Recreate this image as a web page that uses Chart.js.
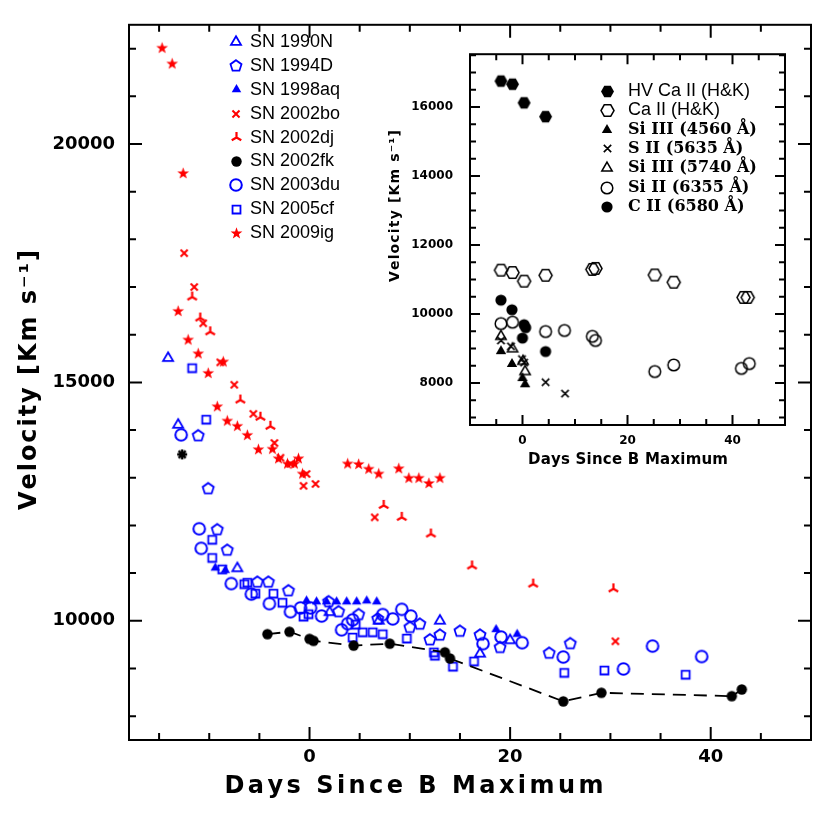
<!DOCTYPE html>
<html lang="en">
<head>
<meta charset="UTF-8">
<title>SN Ia velocities</title>
<script src="https://cdn.jsdelivr.net/npm/chart.js"></script>
<style>
    body { margin: 0; background: #fff; }
    #wrap { position: relative; width: 830px; height: 830px; }
    #main { position: absolute; left: 0; top: 0; }
    #inset { position: absolute; left: 380px; top: 30px; }
</style>
</head>
<body>
<div id="wrap">
    <canvas id="main" width="830" height="830"></canvas>
    <canvas id="inset" width="420" height="450"></canvas>
</div>
<script>
// ---- main panel: days since B max / velocity (km/s) ----
const sn1990nDays = [-14.1, -13.1, -7.2, 2.0, 6.9, 13.0, 17.0, 20.0];
const sn1990nVel  = [15510, 14110, 11100, 10180, 10000, 10000, 9310, 9590];

const sn1994dDays = [-11.1, -10.1, -9.2, -8.2, -5.2, -4.1, -2.1, 1.9, 2.9, 4.9, 6.8, 10.0, 11.0, 12.0, 13.0, 15.0, 17.0, 19.0, 23.9, 26.0];
const sn1994dVel  = [13880, 12770, 11910, 11480, 10810, 10810, 10630, 10400, 10190, 10130, 10040, 9860, 9930, 9600, 9700, 9780, 9700, 9440, 9320, 9520];

const sn1998aqDays = [-9.4, -8.4, -0.3, 0.7, 1.7, 2.7, 3.7, 4.7, 5.7, 6.7, 18.6, 20.7];
const sn1998aqVel  = [11110, 11060, 10420, 10400, 10400, 10400, 10400, 10400, 10420, 10400, 9820, 9720];

const sn2002boDays = [-12.5, -11.5, -10.6, -8.9, -7.5, -5.6, -3.5, -2.9, -1.9, -0.3, -0.6, 0.6, 6.5, 30.5];
const sn2002boVel  = [17710, 17000, 16240, 15420, 14950, 14340, 13730, 13420, 13290, 13080, 12830, 12870, 12170, 9570];

const sn2002djDays = [-11.7, -10.9, -9.9, -6.9, -4.9, -3.9, 7.4, 9.2, 12.1, 16.2, 22.3, 30.3];
const sn2002djVel  = [16790, 16350, 16060, 14630, 14270, 14080, 12420, 12170, 11820, 11150, 10770, 10670];

const sn2002fkDays = [-4.2, -2.0, 0.0, 0.4, 4.4, 8.0, 13.5, 14.0, 25.3, 29.1, 42.1, 43.1];
const sn2002fkVel  = [9720, 9770, 9620, 9580, 9480, 9520, 9340, 9210, 8310, 8490, 8420, 8560];

const sn2003duDays = [-12.8, -11.0, -10.8, -7.8, -5.8, -4.0, -1.9, -0.9, 0.1, 1.2, 3.2, 3.8, 4.3, 7.3, 8.3, 9.2, 10.1, 17.3, 19.1, 21.2, 25.3, 31.3, 34.2, 39.1];
const sn2003duVel  = [13900, 11930, 11520, 10780, 10560, 10360, 10190, 10270, 10270, 10100, 9810, 9940, 10020, 10130, 10040, 10240, 10100, 9520, 9660, 9540, 9240, 8990, 9470, 9250];

const sn2005cfDays = [-11.7, -10.3, -9.7, -9.7, -8.7, -6.5, -6.2, -5.4, -3.6, -2.7, -0.6, -0.1, 4.3, 4.6, 5.3, 6.3, 7.3, 9.7, 12.4, 12.5, 14.3, 16.4, 25.4, 29.4, 37.5];
const sn2005cfVel  = [15300, 14220, 11700, 11320, 11080, 10770, 10800, 10570, 10570, 10380, 10090, 10140, 9650, 9920, 9760, 9760, 9720, 9630, 9340, 9270, 9040, 9150, 8910, 8960, 8870];

const sn2009igDays = [-14.7, -13.7, -12.6, -13.1, -12.1, -11.1, -10.1, -8.6, -9.2, -8.2, -7.2, -6.2, -5.1, -3.7, -3.1, -2.2, -1.5, -1.1, -0.7, 3.8, 4.9, 5.9, 6.9, 8.9, 9.9, 10.9, 11.9, 13.0];
const sn2009igVel  = [22010, 21680, 19380, 16490, 15890, 15600, 15190, 15430, 14490, 14190, 14080, 13890, 13590, 13600, 13400, 13290, 13290, 13400, 13080, 13290, 13280, 13180, 13080, 13190, 12990, 12990, 12880, 12990];

// lone black asterisk (not in legend)
const extraDays = [-12.7];
const extraVel  = [13490];

const mainXTicks = [0, 20, 40];
const mainYTicks = [10000, 15000, 20000];

// ---- inset: SN 2002fk line velocities ----
const hvCaDays = [-4.1, -1.9, 0.3, 4.4];
const hvCaVel  = [16750, 16660, 16120, 15720];
const caDays = [-4.1, -1.9, 0.3, 4.4, 13.3, 13.9, 25.2, 28.8, 42.1, 42.9];
const caVel  = [11270, 11200, 10950, 11120, 11290, 11320, 11130, 10920, 10480, 10480];
const si4560Days = [-4.1, -2.0, 0.0, 0.5];
const si4560Vel  = [8920, 8550, 8140, 7960];
const s5635Days = [-4.1, -2.2, -0.1, 0.3, 4.4, 8.1];
const s5635Vel  = [9230, 9060, 8690, 8590, 8020, 7690];
const si5740Days = [-4.1, -1.9, 0.1, 0.5];
const si5740Vel  = [9350, 8990, 8630, 8330];
const si6355Days = [-4.1, -1.9, 4.4, 8.0, 13.3, 13.9, 25.2, 28.8, 41.7, 43.2];
const si6355Vel  = [9720, 9760, 9490, 9520, 9350, 9230, 8330, 8520, 8420, 8560];
const c6580Days = [-4.1, -2.0, 0.0, 0.3, 0.6, 4.4];
const c6580Vel  = [10400, 10120, 9300, 9690, 9600, 8910];

const insetXTicks = [0, 20, 40];
const insetYTicks = [8000, 10000, 12000, 14000, 16000];

const BLUE = '#0000ff', RED = '#ff0000', BLACK = '#000000';

// small canvas markers (chart.js has no pentagon/hexagon/tripod)
function makeMarker(shape, size, color, filled, lw) {
    const pad = Math.ceil(lw) + 1;
    const dim = Math.ceil(size * 2 + pad * 2);
    const c = document.createElement('canvas');
    c.width = c.height = dim;
    const g = c.getContext('2d');
    g.translate(dim / 2, dim / 2);
    g.strokeStyle = color;
    g.fillStyle = color;
    g.lineWidth = lw;
    const poly = (n, rot) => {
        g.beginPath();
        for (let i = 0; i < n; i++) {
            const a = rot + i * 2 * Math.PI / n;
            const px = size * Math.cos(a), py = size * Math.sin(a);
            if (i) g.lineTo(px, py); else g.moveTo(px, py);
        }
        g.closePath();
    };
    const spokes = (angles) => {
        g.beginPath();
        angles.forEach(d => {
            const a = d * Math.PI / 180;
            g.moveTo(0, 0);
            g.lineTo(size * Math.cos(a), size * Math.sin(a));
        });
        g.stroke();
    };
    switch (shape) {
        case 'circle': g.beginPath(); g.arc(0, 0, size, 0, 2 * Math.PI); break;
        case 'triangle': poly(3, -Math.PI / 2); break;
        case 'square': g.beginPath(); g.rect(-size * 0.75, -size * 0.75, size * 1.5, size * 1.5); break;
        case 'pentagon': poly(5, -Math.PI / 2); break;
        case 'hexagon': poly(6, 0); break;
        case 'star':
            g.beginPath();
            for (let i = 0; i < 10; i++) {
                const r = i % 2 ? size * 0.4 : size;
                const a = -Math.PI / 2 + i * Math.PI / 5;
                if (i) g.lineTo(r * Math.cos(a), r * Math.sin(a)); else g.moveTo(r * Math.cos(a), r * Math.sin(a));
            }
            g.closePath();
            break;
        case 'cross': spokes([45, 135, 225, 315]); return c;
        case 'tripod': spokes([-90, 30, 150]); return c;
        case 'asterisk': spokes([0, 45, 90, 135, 180, 225, 270, 315]); return c;
    }
    if (filled) g.fill(); else g.stroke();
    return c;
}

function pts(days, vel) {
    return days.map((d, i) => ({ x: d, y: vel[i] }));
}

function series(label, days, vel, style, extra) {
    return Object.assign({
        label: label,
        data: pts(days, vel),
        pointStyle: style,
        pointRadius: 6,
        pointHoverRadius: 6,
        showLine: false
    }, extra || {});
}

// draw a string with its letters stretched to a given length
function spacedText(ctx, text, cx, cy, length, font, vertical) {
    ctx.save();
    ctx.font = font;
    ctx.fillStyle = '#000';
    ctx.textBaseline = 'middle';
    ctx.textAlign = 'left';
    const chars = [...text];
    const widths = chars.map(ch => ctx.measureText(ch).width);
    const raw = widths.reduce((a, b) => a + b, 0);
    const gap = chars.length > 1 ? Math.max(0, (length - raw) / (chars.length - 1)) : 0;
    ctx.translate(cx, cy);
    if (vertical) ctx.rotate(-Math.PI / 2);
    let x = -(raw + gap * (chars.length - 1)) / 2;
    chars.forEach((ch, i) => { ctx.fillText(ch, x, 0); x += widths[i] + gap; });
    ctx.restore();
}

// frame with inward ticks on all four sides
const frameTicks = {
    id: 'frameTicks',
    afterDatasetsDraw(chart, args, o) {
        const { ctx, chartArea: a } = chart;
        const x = chart.scales.x, y = chart.scales.y;
        ctx.save();
        ctx.strokeStyle = '#000';
        ctx.lineWidth = o.lineWidth;
        ctx.strokeRect(a.left, a.top, a.right - a.left, a.bottom - a.top);
        ctx.beginPath();
        for (let v = Math.ceil(x.min / o.xMinor) * o.xMinor; v <= x.max; v += o.xMinor) {
            const p = x.getPixelForValue(v);
            const len = v % o.xMajor === 0 ? o.major : o.minor;
            ctx.moveTo(p, a.bottom); ctx.lineTo(p, a.bottom - len);
            ctx.moveTo(p, a.top); ctx.lineTo(p, a.top + len);
        }
        for (let v = Math.ceil(y.min / o.yMinor) * o.yMinor; v <= y.max; v += o.yMinor) {
            const p = y.getPixelForValue(v);
            const len = v % o.yMajor === 0 ? o.major : o.minor;
            ctx.moveTo(a.left, p); ctx.lineTo(a.left + len, p);
            ctx.moveTo(a.right, p); ctx.lineTo(a.right - len, p);
        }
        ctx.stroke();
        ctx.restore();
    }
};

const axisTitles = {
    id: 'axisTitles',
    afterDraw(chart, args, o) {
        const t = o.x, u = o.y;
        spacedText(chart.ctx, t.text, t.cx, t.cy, t.length, t.font, false);
        spacedText(chart.ctx, u.text, u.cx, u.cy, u.length, u.font, true);
    }
};

const markerLegend = {
    id: 'markerLegend',
    afterDraw(chart, args, o) {
        const ctx = chart.ctx;
        ctx.save();
        ctx.fillStyle = '#000';
        ctx.textBaseline = 'middle';
        ctx.textAlign = 'left';
        let row = 0;
        chart.data.datasets.forEach(ds => {
            if (ds.hideInLegend) return;
            const yy = o.y0 + row * o.dy;
            const img = ds.pointStyle;
            ctx.drawImage(img, Math.round(o.markerX - img.width / 2), Math.round(yy - img.height / 2));
            ctx.font = ds.legendFont || o.font;
            ctx.fillText(ds.label, o.textX, yy);
            row++;
        });
        ctx.restore();
    }
};

const tickFontMain = { family: 'DejaVu Sans', weight: 'bold', size: 18 };
const tickFontInset = { family: 'DejaVu Sans', weight: 'bold', size: 12 };

function axis(min, max, tickValues, font, pad, fit) {
    return {
        type: 'linear',
        min: min,
        max: max,
        grid: { display: false, drawTicks: false },
        border: { display: false },
        afterBuildTicks: s => { s.ticks = tickValues.map(v => ({ value: v })); },
        ticks: { padding: pad, font: font, color: '#000', autoSkip: false, maxRotation: 0, callback: v => String(v) },
        afterFit: fit
    };
}

// ---- main chart ----
new Chart(document.getElementById('main'), {
    type: 'scatter',
    data: {
        datasets: [
            series('SN 1990N', sn1990nDays, sn1990nVel, makeMarker('triangle', 5.8, BLUE, false, 1.8)),
            series('SN 1994D', sn1994dDays, sn1994dVel, makeMarker('pentagon', 5.8, BLUE, false, 1.8)),
            series('SN 1998aq', sn1998aqDays, sn1998aqVel, makeMarker('triangle', 5.5, BLUE, true, 1)),
            series('SN 2002bo', sn2002boDays, sn2002boVel, makeMarker('cross', 5, RED, false, 2)),
            series('SN 2002dj', sn2002djDays, sn2002djVel, makeMarker('tripod', 5.5, RED, false, 2.2)),
            series('SN 2002fk', sn2002fkDays, sn2002fkVel, makeMarker('circle', 5.2, BLACK, true, 1),
                { showLine: true, borderColor: BLACK, borderWidth: 1.8, borderDash: [13, 8] }),
            series('SN 2003du', sn2003duDays, sn2003duVel, makeMarker('circle', 5.8, BLUE, false, 2)),
            series('SN 2005cf', sn2005cfDays, sn2005cfVel, makeMarker('square', 5.3, BLUE, false, 1.8)),
            series('SN 2009ig', sn2009igDays, sn2009igVel, makeMarker('star', 6.2, RED, true, 1)),
            series('SN 2002fk early', extraDays, extraVel, makeMarker('asterisk', 5, BLACK, false, 2.4), { hideInLegend: true })
        ]
    },
    options: {
        responsive: false,
        animation: false,
        events: [],
        layout: { padding: { top: 20, right: 19, left: 0, bottom: 0 } },
        scales: {
            x: axis(-18, 50, mainXTicks, tickFontMain, 7, s => { s.height = 90; }),
            y: axis(7500, 22500, mainYTicks, tickFontMain, 14, s => { s.width = 129; })
        },
        plugins: {
            legend: { display: false },
            tooltip: { enabled: false },
            frameTicks: { lineWidth: 2, xMinor: 5, xMajor: 20, yMinor: 1000, yMajor: 5000, major: 13, minor: 7 },
            axisTitles: {
                x: { text: 'Days Since B Maximum', cx: 414, cy: 787, length: 379, font: 'bold 24px "DejaVu Sans"' },
                y: { text: 'Velocity [Km s\u207B\u00B9]', cx: 30, cy: 380, length: 260, font: 'bold 24px "DejaVu Sans"' }
            },
            markerLegend: { markerX: 236, textX: 250, y0: 42, dy: 23.9, font: '18px "Liberation Sans"' }
        }
    },
    plugins: [frameTicks, axisTitles, markerLegend]
});

// ---- inset chart ----
const serifBold = 'bold 16px "DejaVu Serif"';
new Chart(document.getElementById('inset'), {
    type: 'scatter',
    data: {
        datasets: [
            series('HV Ca II (H&K)', hvCaDays, hvCaVel, makeMarker('hexagon', 6.5, BLACK, true, 1)),
            series('Ca II (H&K)', caDays, caVel, makeMarker('hexagon', 6.5, BLACK, false, 1.5)),
            series('Si III (4560 \u00C5)', si4560Days, si4560Vel, makeMarker('triangle', 6, BLACK, true, 1), { legendFont: serifBold }),
            series('S II (5635 \u00C5)', s5635Days, s5635Vel, makeMarker('cross', 5.2, BLACK, false, 1.7), { legendFont: serifBold }),
            series('Si III (5740 \u00C5)', si5740Days, si5740Vel, makeMarker('triangle', 6, BLACK, false, 1.5), { legendFont: serifBold }),
            series('Si II (6355 \u00C5)', si6355Days, si6355Vel, makeMarker('circle', 5.8, BLACK, false, 1.5), { legendFont: serifBold }),
            series('C II (6580 \u00C5)', c6580Days, c6580Vel, makeMarker('circle', 5.6, BLACK, true, 1), { legendFont: serifBold })
        ]
    },
    options: {
        responsive: false,
        animation: false,
        events: [],
        layout: { padding: { top: 14, right: 15, left: 0, bottom: 0 } },
        scales: {
            x: axis(-10, 50, insetXTicks, tickFontInset, 9, s => { s.height = 55; }),
            y: axis(6780, 17530, insetYTicks, tickFontInset, 17, s => { s.width = 90; })
        },
        plugins: {
            legend: { display: false },
            tooltip: { enabled: false },
            frameTicks: { lineWidth: 2, xMinor: 5, xMajor: 20, yMinor: 500, yMajor: 2000, major: 10, minor: 6 },
            axisTitles: {
                x: { text: 'Days Since B Maximum', cx: 248, cy: 430, length: 200, font: 'bold 15px "DejaVu Sans"' },
                y: { text: 'Velocity [Km s\u207B\u00B9]', cx: 15, cy: 176, length: 152, font: 'bold 14px "DejaVu Sans"' }
            },
            markerLegend: { markerX: 227, textX: 248, y0: 61, dy: 19.3, font: '18px "Liberation Sans"' }
        }
    },
    plugins: [frameTicks, axisTitles, markerLegend]
});
</script>
</body>
</html>
